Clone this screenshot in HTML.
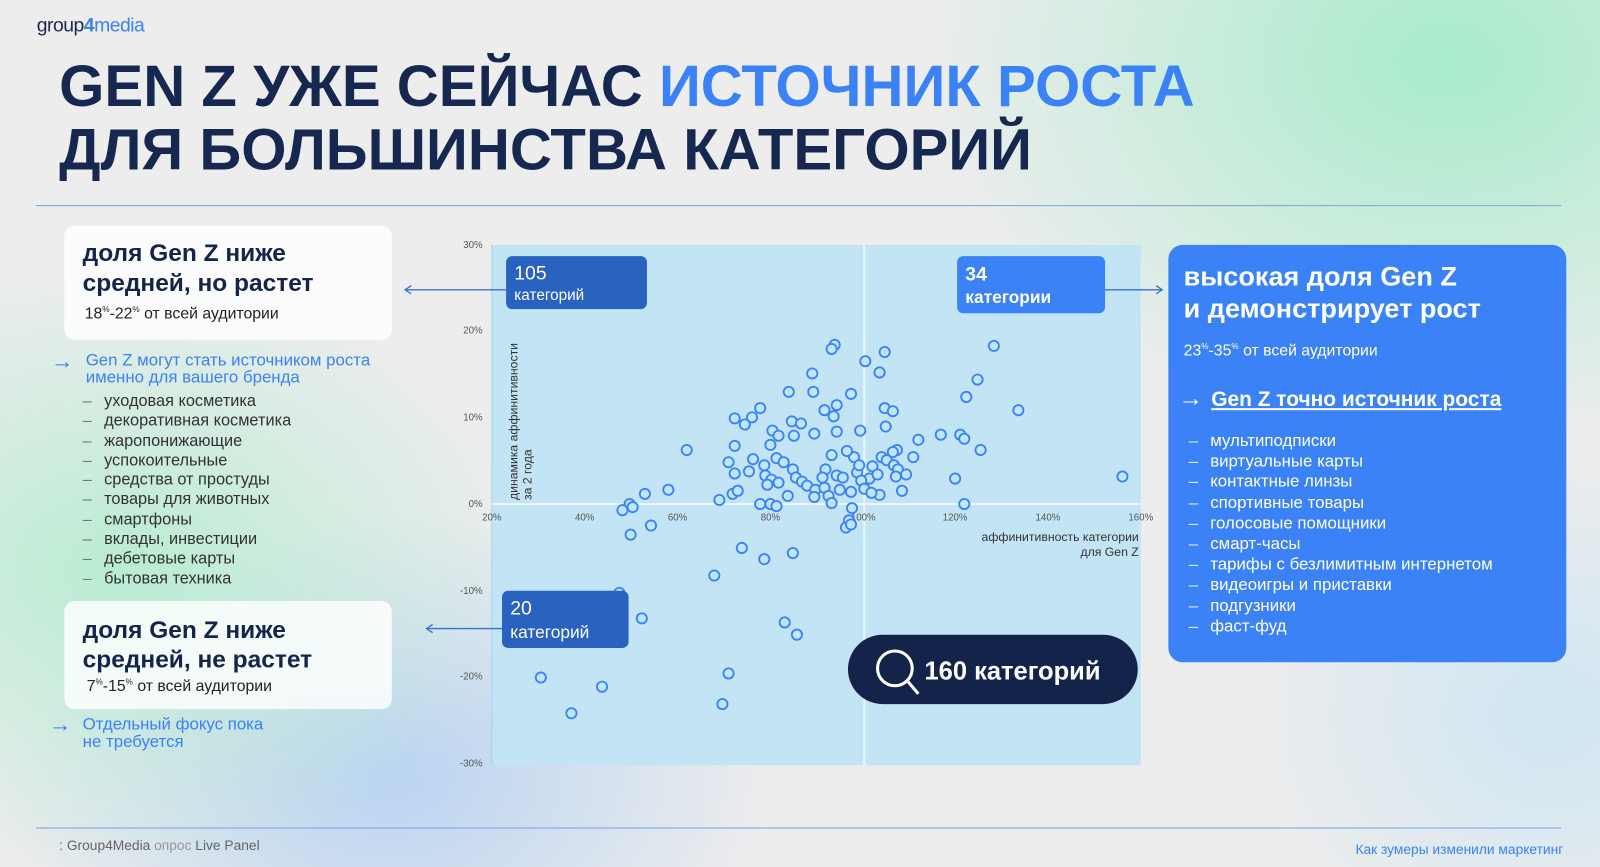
<!DOCTYPE html>
<html><head><meta charset="utf-8"><style>
*{margin:0;padding:0;box-sizing:border-box}
html,body{width:1600px;height:867px;overflow:hidden}
body{font-family:"Liberation Sans",sans-serif;position:relative;background:#ededed}
#w{position:absolute;left:0;top:0;width:1568px;height:850px;transform:scale(1.0204);transform-origin:0 0;
background:radial-gradient(ellipse 520px 380px at 1420px 60px,#a8eccb 0%,rgba(168,236,203,0) 100%),
radial-gradient(ellipse 400px 300px at 120px 560px,#b9ecd2 0%,rgba(185,236,210,0) 100%),
radial-gradient(ellipse 380px 260px at 380px 760px,#b9d3f2 0%,rgba(185,211,242,0) 100%),
radial-gradient(ellipse 300px 260px at 1520px 700px,#cfe6f2 0%,rgba(207,230,242,0) 100%),#ededed}
.a{position:absolute;white-space:nowrap}
h1{position:absolute;left:58px;font-size:57px;font-weight:bold;color:#16284f;line-height:1}
.card{position:absolute;background:rgba(255,255,255,.82);border-radius:10px}
.ct{font-size:24px;font-weight:bold;color:#15244a;line-height:29px}
.list div{font-size:16px;color:#333;line-height:19.3px}
.list span{display:inline-block;width:21px;color:#777}
.w div{color:#fff!important;line-height:20.2px!important;font-size:16.5px!important}.w span{color:#dbe8ff!important}
.arr{font-size:22px;color:#3b82f6}
</style></head><body><div id="w">
<div class="a" style="left:36px;top:15px;font-size:19px;color:#1b2a4e;letter-spacing:-0.5px">group<span style="color:#3b82f6;font-weight:bold">4</span><span style="color:#3b82f6">media</span></div>
<h1 style="top:57px">GEN Z УЖЕ СЕЙЧАС <span style="color:#3b82f6">ИСТОЧНИК РОСТА</span></h1>
<h1 style="top:119px">ДЛЯ БОЛЬШИНСТВА КАТЕГОРИЙ</h1>
<div class="a" style="left:35px;top:201px;width:1495px;height:1px;background:#7da3e3"></div>
<div class="a" style="left:35px;top:811px;width:1495px;height:1px;background:#7da3e3"></div>

<div class="card" style="left:63px;top:221px;width:321px;height:112px"></div>
<div class="a ct" style="left:81px;top:234px">доля Gen Z ниже<br>средней, но растет</div>
<div class="a" style="left:83px;top:299px;font-size:15.5px;color:#222">18<sup style="font-size:8px">%</sup>-22<sup style="font-size:8px">%</sup> от всей аудитории</div>
<div class="a arr" style="left:50px;top:341px">→</div>
<div class="a" style="left:84px;top:345px;font-size:16.5px;color:#3b82f6;line-height:17px">Gen Z могут стать источником роста<br>именно для вашего бренда</div>
<div class="a list" style="left:81px;top:384px">
<div><span>–</span>уходовая косметика</div><div><span>–</span>декоративная косметика</div><div><span>–</span>жаропонижающие</div><div><span>–</span>успокоительные</div><div><span>–</span>средства от простуды</div><div><span>–</span>товары для животных</div><div><span>–</span>смартфоны</div><div><span>–</span>вклады, инвестиции</div><div><span>–</span>дебетовые карты</div><div><span>–</span>бытовая техника</div></div>

<div class="card" style="left:63px;top:589px;width:321px;height:106px"></div>
<div class="a ct" style="left:81px;top:603px">доля Gen Z ниже<br>средней, не растет</div>
<div class="a" style="left:85px;top:664px;font-size:15.5px;color:#222">7<sup style="font-size:8px">%</sup>-15<sup style="font-size:8px">%</sup> от всей аудитории</div>
<div class="a arr" style="left:48px;top:697px">→</div>
<div class="a" style="left:81px;top:702px;font-size:16.5px;color:#3b82f6;line-height:17px">Отдельный фокус пока<br>не требуется</div>

<div class="a" style="left:1145px;top:240px;width:390px;height:409px;background:#3b82f6;border-radius:14px"></div>
<div class="a" style="left:1160px;top:256px;font-size:26.5px;font-weight:bold;color:#fff;line-height:31px">высокая доля Gen Z<br>и демонстрирует рост</div>
<div class="a" style="left:1160px;top:335px;font-size:15.5px;color:#fff">23<sup style="font-size:8px">%</sup>-35<sup style="font-size:8px">%</sup> от всей аудитории</div>
<div class="a" style="left:1155px;top:377px;font-size:24px;font-weight:bold;color:#fff">→</div>
<div class="a" style="left:1187px;top:380px;font-size:20.5px;font-weight:bold;color:#fff;text-decoration:underline">Gen Z точно источник роста</div>
<div class="a list" style="left:1165px;top:422px">
<div class="w"><div><span>–</span>мультиподписки</div><div><span>–</span>виртуальные карты</div><div><span>–</span>контактные линзы</div><div><span>–</span>спортивные товары</div><div><span>–</span>голосовые помощники</div><div><span>–</span>смарт-часы</div><div><span>–</span>тарифы с безлимитным интернетом</div><div><span>–</span>видеоигры и приставки</div><div><span>–</span>подгузники</div><div><span>–</span>фаст-фуд</div></div></div>

<svg class="a" style="left:0;top:0" width="1568" height="850">
<rect x="482" y="240" width="636" height="510" fill="#c2e4f5"/>
<line x1="482" y1="240" x2="482" y2="750" stroke="#a5d4ee" stroke-width="1"/>
<line x1="847" y1="240" x2="847" y2="750" stroke="#eaf6fc" stroke-width="2"/>
<line x1="482" y1="494" x2="1118" y2="494" stroke="#eaf6fc" stroke-width="2"/>
<g font-family="Liberation Sans" font-size="9.5" fill="#555">
<text x="473" y="243" text-anchor="end">30%</text><text x="473" y="327" text-anchor="end">20%</text><text x="473" y="412" text-anchor="end">10%</text><text x="473" y="497" text-anchor="end">0%</text><text x="473" y="582" text-anchor="end">-10%</text><text x="473" y="666" text-anchor="end">-20%</text><text x="473" y="751" text-anchor="end">-30%</text>
<text x="482" y="510" text-anchor="middle">20%</text><text x="573" y="510" text-anchor="middle">40%</text><text x="664" y="510" text-anchor="middle">60%</text><text x="755" y="510" text-anchor="middle">80%</text><text x="846" y="510" text-anchor="middle">100%</text><text x="936" y="510" text-anchor="middle">120%</text><text x="1027" y="510" text-anchor="middle">140%</text><text x="1118" y="510" text-anchor="middle">160%</text>
</g>
<g font-family="Liberation Sans" font-size="12" fill="#333">
<text x="1116" y="530" text-anchor="end">аффинитивность категории</text><text x="1116" y="545" text-anchor="end">для Gen Z</text>
<text transform="translate(507,490) rotate(-90)">динамика аффинитивности</text>
<text transform="translate(521,490) rotate(-90)">за 2 года</text>
</g>
<g fill="#bfe6ff" stroke="#3b82f6" stroke-width="1.8">
<circle cx="818" cy="338" r="5"/><circle cx="815" cy="342" r="5"/><circle cx="867" cy="345" r="5"/><circle cx="974" cy="339" r="5"/><circle cx="848" cy="354" r="5"/><circle cx="862" cy="365" r="5"/><circle cx="958" cy="372" r="5"/><circle cx="796" cy="366" r="5"/><circle cx="834" cy="386" r="5"/><circle cx="773" cy="384" r="5"/><circle cx="797" cy="384" r="5"/><circle cx="947" cy="389" r="5"/><circle cx="745" cy="400" r="5"/><circle cx="867" cy="400" r="5"/><circle cx="808" cy="402" r="5"/><circle cx="820" cy="397" r="5"/><circle cx="875" cy="403" r="5"/><circle cx="998" cy="402" r="5"/><circle cx="720" cy="410" r="5"/><circle cx="737" cy="409" r="5"/><circle cx="730" cy="416" r="5"/><circle cx="776" cy="413" r="5"/><circle cx="817" cy="408" r="5"/><circle cx="785" cy="415" r="5"/><circle cx="843" cy="422" r="5"/><circle cx="868" cy="418" r="5"/><circle cx="922" cy="426" r="5"/><circle cx="941" cy="426" r="5"/><circle cx="945" cy="430" r="5"/><circle cx="900" cy="431" r="5"/><circle cx="757" cy="422" r="5"/><circle cx="763" cy="427" r="5"/><circle cx="778" cy="427" r="5"/><circle cx="798" cy="425" r="5"/><circle cx="820" cy="423" r="5"/><circle cx="755" cy="436" r="5"/><circle cx="720" cy="437" r="5"/><circle cx="673" cy="441" r="5"/><circle cx="961" cy="441" r="5"/><circle cx="879" cy="441" r="5"/><circle cx="837" cy="448" r="5"/><circle cx="864" cy="448" r="5"/><circle cx="875" cy="443" r="5"/><circle cx="869" cy="451" r="5"/><circle cx="895" cy="448" r="5"/><circle cx="714" cy="453" r="5"/><circle cx="738" cy="450" r="5"/><circle cx="761" cy="449" r="5"/><circle cx="768" cy="453" r="5"/><circle cx="815" cy="446" r="5"/><circle cx="830" cy="442" r="5"/><circle cx="876" cy="456" r="5"/><circle cx="880" cy="460" r="5"/><circle cx="734" cy="462" r="5"/><circle cx="777" cy="460" r="5"/><circle cx="855" cy="457" r="5"/><circle cx="840" cy="463" r="5"/><circle cx="842" cy="456" r="5"/><circle cx="809" cy="460" r="5"/><circle cx="820" cy="466" r="5"/><circle cx="852" cy="469" r="5"/><circle cx="720" cy="464" r="5"/><circle cx="750" cy="466" r="5"/><circle cx="756" cy="470" r="5"/><circle cx="749" cy="456" r="5"/><circle cx="780" cy="468" r="5"/><circle cx="786" cy="472" r="5"/><circle cx="806" cy="468" r="5"/><circle cx="826" cy="468" r="5"/><circle cx="844" cy="471" r="5"/><circle cx="878" cy="467" r="5"/><circle cx="860" cy="465" r="5"/><circle cx="888" cy="465" r="5"/><circle cx="936" cy="469" r="5"/><circle cx="655" cy="480" r="5"/><circle cx="632" cy="484" r="5"/><circle cx="718" cy="484" r="5"/><circle cx="723" cy="481" r="5"/><circle cx="752" cy="475" r="5"/><circle cx="763" cy="473" r="5"/><circle cx="791" cy="476" r="5"/><circle cx="799" cy="480" r="5"/><circle cx="808" cy="478" r="5"/><circle cx="823" cy="480" r="5"/><circle cx="834" cy="482" r="5"/><circle cx="847" cy="479" r="5"/><circle cx="862" cy="485" r="5"/><circle cx="884" cy="481" r="5"/><circle cx="812" cy="486" r="5"/><circle cx="798" cy="487" r="5"/><circle cx="772" cy="486" r="5"/><circle cx="815" cy="493" r="5"/><circle cx="854" cy="483" r="5"/><circle cx="705" cy="490" r="5"/><circle cx="745" cy="494" r="5"/><circle cx="755" cy="494" r="5"/><circle cx="761" cy="496" r="5"/><circle cx="617" cy="494" r="5"/><circle cx="620" cy="497" r="5"/><circle cx="610" cy="500" r="5"/><circle cx="835" cy="498" r="5"/><circle cx="945" cy="494" r="5"/><circle cx="1100" cy="467" r="5"/><circle cx="832" cy="510" r="5"/><circle cx="829" cy="517" r="5"/><circle cx="834" cy="514" r="5"/><circle cx="618" cy="524" r="5"/><circle cx="638" cy="515" r="5"/><circle cx="727" cy="537" r="5"/><circle cx="749" cy="548" r="5"/><circle cx="777" cy="542" r="5"/><circle cx="700" cy="564" r="5"/><circle cx="607" cy="581" r="5"/><circle cx="629" cy="606" r="5"/><circle cx="769" cy="610" r="5"/><circle cx="781" cy="622" r="5"/><circle cx="530" cy="664" r="5"/><circle cx="590" cy="673" r="5"/><circle cx="714" cy="660" r="5"/><circle cx="560" cy="699" r="5"/><circle cx="708" cy="690" r="5"/>
</g>
<g stroke="#3a6fd0" stroke-width="1.3" fill="none">
<line x1="397" y1="284" x2="496" y2="284"/><polyline points="403,280 397,284 403,288"/>
<line x1="1083" y1="284" x2="1139" y2="284"/><polyline points="1133,280 1139,284 1133,288"/>
<line x1="418" y1="616" x2="492" y2="616"/><polyline points="424,612 418,616 424,620"/>
</g>
<rect x="496" y="251" width="138" height="52" rx="6" fill="#2a62c0"/>
<rect x="938" y="251" width="145" height="56" rx="6" fill="#3b82f6"/>
<rect x="492" y="579" width="124" height="56" rx="6" fill="#2a62c0"/>
<rect x="831" y="622" width="284" height="68" rx="34" fill="#14234a"/>
<circle cx="877" cy="655" r="17" fill="none" stroke="#fff" stroke-width="3"/><line x1="889" y1="667" x2="900" y2="680" stroke="#fff" stroke-width="3"/>
<g font-family="Liberation Sans" fill="#fff">
<text x="504" y="274" font-size="19">105</text><text x="504" y="294" font-size="15">категорий</text>
<text x="946" y="275" font-size="19" font-weight="bold">34</text><text x="946" y="297" font-size="17" font-weight="bold">категории</text>
<text x="500" y="602" font-size="19">20</text><text x="500" y="625" font-size="17">категорий</text>
<text x="906" y="666" font-size="25" font-weight="bold">160 категорий</text>
</g>
</svg>
<div class="a" style="left:58px;top:821px;font-size:13.5px;color:#666">: Group4Media <span style="color:#999">опрос</span> Live Panel</div>
<div class="a" style="right:36px;top:825px;font-size:13.5px;color:#3b82f6">Как зумеры изменили маркетинг</div>
</div></body></html>
